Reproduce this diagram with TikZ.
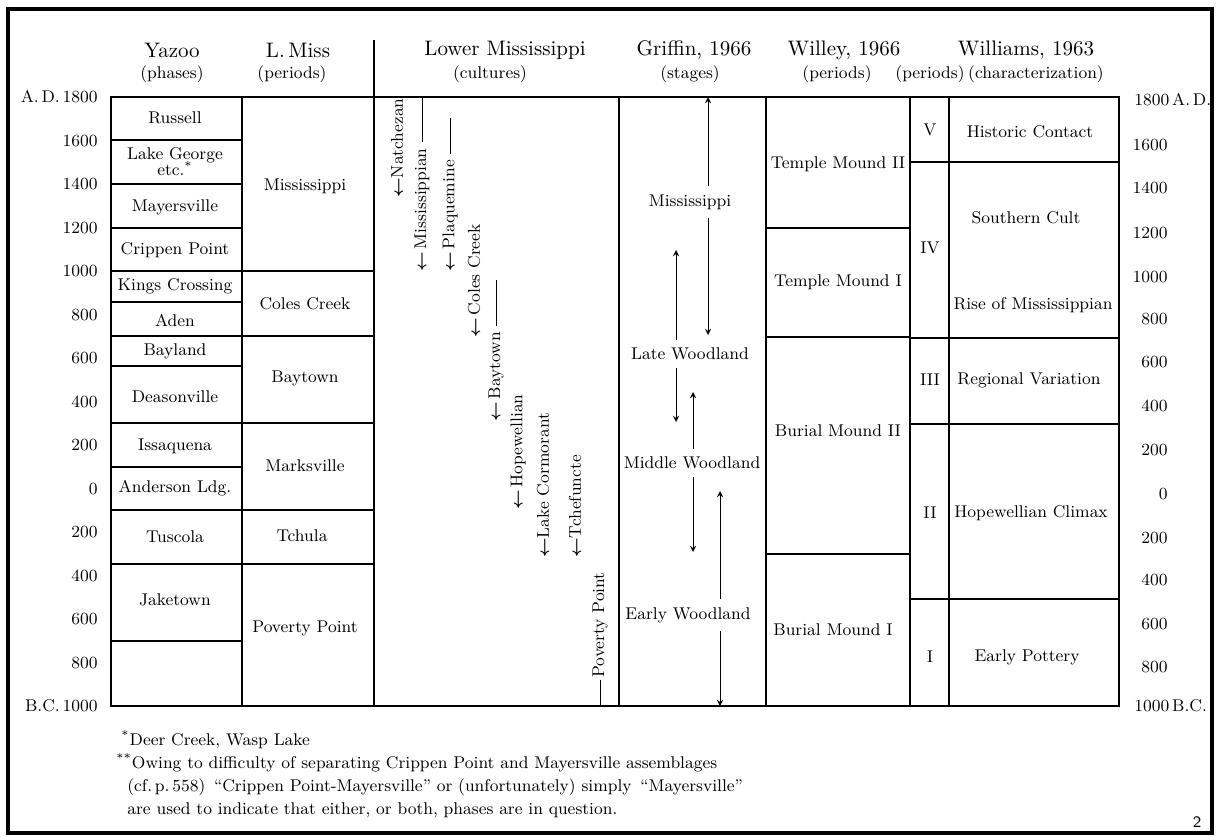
\documentclass[tikz,border=0pt]{standalone}
\usepackage{amssymb,amsmath}

\begin{document}
\begin{tikzpicture}[x=0.5pt,y=-0.5pt,>=stealth,
  hd/.style={font=\fontsize{10.5}{12}\selectfont},
  sub/.style={font=\fontsize{8.5}{10}\selectfont},
  cell/.style={font=\fontsize{8.5}{10}\selectfont,align=center,inner sep=1pt},
  yrl/.style={font=\fontsize{8.5}{10}\selectfont,anchor=east,inner sep=0pt},
  cult/.style={font=\fontsize{8.5}{10}\selectfont,rotate=90,anchor=west,inner sep=0pt},
  stage/.style={font=\fontsize{8.5}{10}\selectfont,inner sep=4pt},
  note/.style={font=\fontsize{8.5}{10}\selectfont,anchor=base west,inner sep=0pt},
  thin/.style={line width=0.6pt}]
\useasboundingbox (0,0) rectangle (1216,837);
% page frame
\draw[line width=2.2pt] (8,9) rectangle (1212,833);

% table frame and columns
\draw[line width=1.2pt] (111,97) rectangle (1119,706);
\draw[thin] (242,97) -- (242,706);
\draw[thin] (374,40) -- (374,706);
\draw[thin] (619,97) -- (619,706);
\draw[thin] (766,97) -- (766,706);
\draw[thin] (910,97) -- (910,706);
\draw[thin] (949,97) -- (949,706);

% row lines
\draw[thin] (111,140) -- (242,140) (111,184) -- (242,184) (111,228) -- (242,228)
  (111,271) -- (374,271) (111,302) -- (242,302) (111,336) -- (374,336)
  (111,366) -- (242,366) (111,423) -- (374,423) (111,467) -- (242,467)
  (111,510) -- (374,510) (111,564) -- (374,564) (111,641) -- (242,641);
\draw[thin] (766,228) -- (910,228) (766,337) -- (910,337) (766,554) -- (910,554);
\draw[thin] (910,162) -- (1119,162) (910,338) -- (1119,338)
  (910,424) -- (1119,424) (910,599) -- (1119,599);

% headings
\node[hd] (yazoo) at (172,50) {Yazoo};
\node[sub] (yazoosub) at (172,74) {(phases)};
\node[hd] (lmiss) at (298,50) {L.\,Miss};
\node[sub] (lmisssub) at (292,74) {(periods)};
\node[hd] (lowmiss) at (505,50) {Lower Mississippi};
\node[sub] (lowmisssub) at (490,74) {(cultures)};
\node[hd] (griffin) at (694,50) {Griffin, 1966};
\node[sub] (griffinsub) at (690,74) {(stages)};
\node[hd] (willey) at (844,50) {Willey, 1966};
\node[sub] (willeysub) at (837,74) {(periods)};
\node[hd] (williams) at (1026,50) {Williams, 1963};
\node[sub] (williamsper) at (930,74) {(periods)};
\node[sub] (williamschar) at (1036,74) {(characterization)};

% years, left
\node[yrl] (l1800) at (98,97) {A.\,D.\,1800};
\node[yrl] (l1600) at (98,141) {1600};
\node[yrl] (l1400) at (98,184) {1400};
\node[yrl] (l1200) at (98,228) {1200};
\node[yrl] (l1000) at (98,271) {1000};
\node[yrl] (l800) at (98,315) {800};
\node[yrl] (l600) at (98,358) {600};
\node[yrl] (l400) at (98,402) {400};
\node[yrl] (l200) at (98,445) {200};
\node[yrl] (l0) at (98,489) {0};
\node[yrl] (lb200) at (98,532) {200};
\node[yrl] (lb400) at (98,576) {400};
\node[yrl] (lb600) at (98,619) {600};
\node[yrl] (lb800) at (98,663) {800};
\node[yrl] (lb1000) at (98,706) {B.C.\,1000};

% years, right
\node[yrl,anchor=west] (r1800) at (1134,100) {1800\,A.\,D.};
\node[yrl] (r1600) at (1168,145) {1600};
\node[yrl] (r1400) at (1168,188) {1400};
\node[yrl] (r1200) at (1168,233) {1200};
\node[yrl] (r1000) at (1168,277) {1000};
\node[yrl] (r800) at (1168,319) {800};
\node[yrl] (r600) at (1168,362) {600};
\node[yrl] (r400) at (1168,406) {400};
\node[yrl] (r200) at (1168,450) {200};
\node[yrl] (r0) at (1168,494) {0};
\node[yrl] (rb200) at (1168,538) {200};
\node[yrl] (rb400) at (1168,580) {400};
\node[yrl] (rb600) at (1168,624) {600};
\node[yrl] (rb800) at (1168,667) {800};
\node[yrl,anchor=west] (rb1000) at (1134,706) {1000\,B.C.};

% Yazoo phases
\node[cell] (russell) at (175,118) {Russell};
\node[cell] (lakegeorge) at (175,162) {Lake George\\[-2pt]etc.\textsuperscript{*}};
\node[cell] (mayers) at (175,207) {Mayersville};
\node[cell] (crippen) at (175,250) {Crippen Point};
\node[cell] (kings) at (175,286) {Kings Crossing};
\node[cell] (aden) at (175,320) {Aden};
\node[cell] (bayland) at (175,351) {Bayland};
\node[cell] (deason) at (175,397) {Deasonville};
\node[cell] (issaq) at (175,446) {Issaquena};
\node[cell] (anders) at (175,488) {Anderson Ldg.};
\node[cell] (tuscola) at (175,537) {Tuscola};
\node[cell] (jaketown) at (175,600) {Jaketown};

% L. Miss periods
\node[cell] (missp) at (305,186) {Mississippi};
\node[cell] (colesp) at (305,304) {Coles Creek};
\node[cell] (baytp) at (305,378) {Baytown};
\node[cell] (marksp) at (305,466) {Marksville};
\node[cell] (tchulap) at (302,536) {Tchula};
\node[cell] (povp) at (305,628) {Poverty Point};

% Lower Mississippi cultures
\node[cult] (natch) at (397,198) {$\boldsymbol{\leftarrow}$Natchezan};
\node[cult] (mssp) at (422,272) {$\boldsymbol{\leftarrow}$\,Mississippian};
\node[cult] (plaq) at (450,272) {$\boldsymbol{\leftarrow}$\,Plaquemine};
\node[cult] (coles) at (474,338) {$\boldsymbol{\leftarrow}$\,Coles Creek};
\node[cult] (bayt) at (496,422) {$\boldsymbol{\leftarrow}$\,Baytown};
\node[cult] (hopew) at (518,510) {$\boldsymbol{\leftarrow}$\,Hopewellian};
\node[cult] (lakec) at (543,558) {$\boldsymbol{\leftarrow}$Lake Cormorant};
\node[cult] (tchef) at (575,558) {$\boldsymbol{\leftarrow}$Tchefuncte};
\node[cult] (povpt) at (600,678) {Poverty Point};
\coordinate (msspend) at (422,97);
\coordinate (plaqend) at (450,118);
\coordinate (baytend) at (496,280);
\coordinate (povptend) at (600,706);
\draw ([yshift=3pt]mssp.east) -- (msspend);
\draw ([yshift=3pt]plaq.east) -- (plaqend);
\draw ([yshift=3pt]bayt.east) -- (baytend);
\draw ([yshift=-1pt]povpt.west) -- (povptend);

% Griffin stages
\node[stage] (missg) at (690,202) {Mississippi};
\node[stage] (latew) at (690,354) {Late Woodland};
\node[stage] (middlew) at (692,463) {Middle Woodland};
\node[stage] (earlyw) at (688,615) {Early Woodland};
\coordinate (g1top) at (708,97);
\coordinate (g1bot) at (708,335);
\coordinate (g2top) at (676,250);
\coordinate (g2bot) at (676,422);
\coordinate (g3top) at (693,392);
\coordinate (g3bot) at (693,552);
\coordinate (g4top) at (720,491);
\coordinate (g4bot) at (720,706);
\draw[->] (missg.north -| g1top) -- (g1top);
\draw[->] (missg.south -| g1top) -- (g1bot);
\draw[->] (latew.north -| g2top) -- (g2top);
\draw[->] (latew.south -| g2top) -- (g2bot);
\draw[->] (middlew.north -| g3top) -- (g3top);
\draw[->] (middlew.south -| g3top) -- (g3bot);
\draw[->] (earlyw.north -| g4top) -- (g4top);
\draw[->] (earlyw.south -| g4top) -- (g4bot);

% Willey periods
\node[cell] (tm2) at (838,164) {Temple Mound II};
\node[cell] (tm1) at (838,282) {Temple Mound I};
\node[cell] (bm2) at (838,431) {Burial Mound II};
\node[cell] (bm1) at (833,630) {Burial Mound I};

% Williams periods and characterization
\node[cell] (pv) at (930,130) {V};
\node[cell] (piv) at (930,248) {IV};
\node[cell] (piii) at (930,380) {III};
\node[cell] (pii) at (930,513) {II};
\node[cell] (pi) at (930,657) {I};
\node[cell] (histc) at (1030,132) {Historic Contact};
\node[cell] (southc) at (1026,218) {Southern Cult};
\node[cell] (risem) at (1033,305) {Rise of Mississippian};
\node[cell] (regv) at (1029,380) {Regional Variation};
\node[cell] (hopec) at (1031,513) {Hopewellian Climax};
\node[cell] (earlyp) at (1027,657) {Early Pottery};

% footnotes
\node[note] (fn1) at (121,745) {\textsuperscript{*}Deer Creek, Wasp Lake};
\node[note] (fn2) at (116,768) {\textsuperscript{**}Owing to difficulty of separating Crippen Point and Mayersville assemblages};
\node[note] (fn3) at (127,791) {(cf.\,p.\,558) \,``Crippen Point-Mayersville'' or (unfortunately) simply \,``Mayersville''};
\node[note] (fn4) at (127,814) {are used to indicate that either, or both, phases are in question.};
\node[font=\sffamily\fontsize{8}{10}\selectfont] (pagenum) at (1197,822) {2};
\end{tikzpicture}
\end{document}
